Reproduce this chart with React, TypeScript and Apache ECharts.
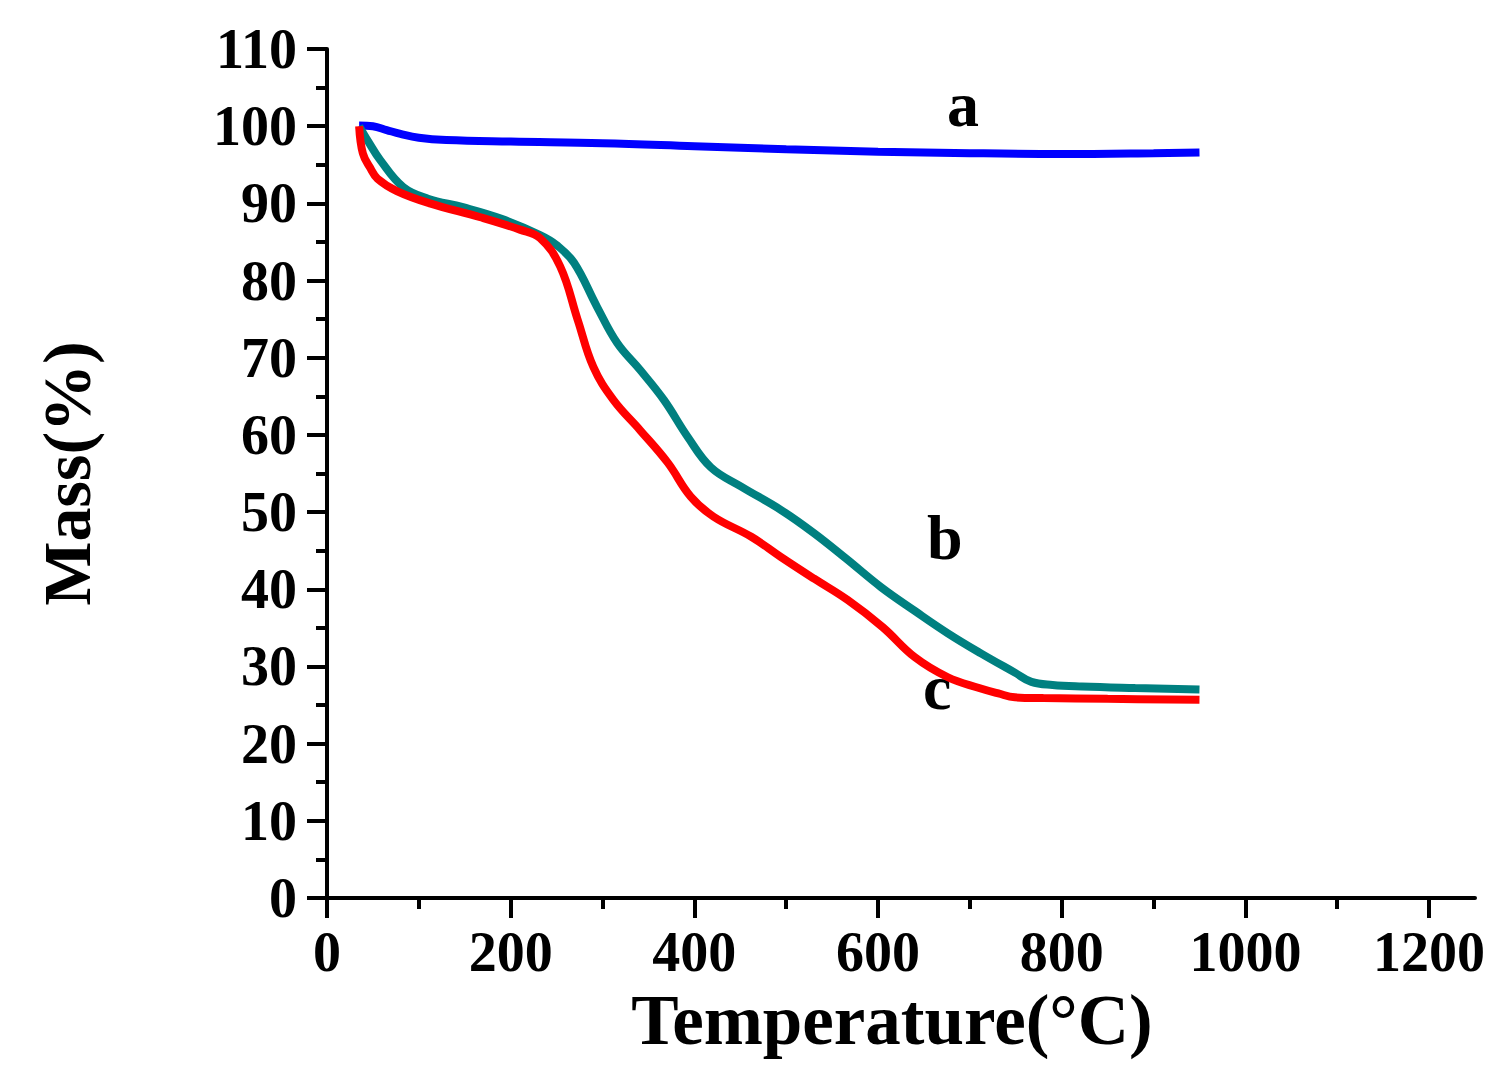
import React, { useEffect, useRef } from "react";
import * as echarts from "echarts";

const tempA = [35, 50, 65, 80, 100, 130, 200, 300, 400, 500, 600, 700, 800, 900, 950];
const massA = [100.1, 100, 99.5, 99.0, 98.5, 98.2, 98.0, 97.8, 97.4, 97.0, 96.7, 96.5, 96.4, 96.5, 96.6];

const tempB = [35, 45, 58, 83, 110, 148, 190, 232, 250, 269, 294, 316, 341, 367, 393, 418, 451, 494, 530, 565, 603, 640, 676, 712, 749, 767, 790, 822, 880, 950];
const massB = [100, 98, 95.6, 92.1, 90.6, 89.5, 88.0, 85.9, 84.6, 82.3, 76.6, 71.9, 68.4, 64.5, 59.7, 55.8, 53.3, 50.3, 47.3, 44, 40.3, 37.2, 34.3, 31.7, 29.2, 28.0, 27.6, 27.4, 27.2, 27.0];

const tempC = [35, 39, 47, 55, 76, 112, 167, 210, 232, 254, 273, 290, 312, 341, 371, 396, 421, 462, 494, 530, 567, 605, 640, 676, 710, 731, 749, 780, 850, 950];
const massC = [100, 96.5, 94.6, 93.2, 91.6, 90, 88.2, 86.6, 85.5, 81.8, 74.9, 68.8, 64.5, 60.6, 56.4, 52, 49.4, 46.8, 44.2, 41.4, 38.6, 35.1, 31.2, 28.6, 27.2, 26.5, 26.0, 25.9, 25.8, 25.7];

const xMajorTicks = [0, 200, 400, 600, 800, 1000, 1200];
const xMinorTicks = [100, 300, 500, 700, 900, 1100];

const seriesLabels = ["a", "b", "c"];

const FONT = "'Liberation Serif', 'Times New Roman', serif";

const zip = (xs: number[], ys: number[]) => xs.map((x, i) => [x, ys[i]]);

export default function App() {
  const ref = useRef<HTMLDivElement>(null);
  useEffect(() => {
    document.body.style.margin = "0";
    const chart = echarts.init(ref.current!, null, { renderer: "svg" });
    const axisLineStyle = { color: "#000", width: 4 };
    chart.setOption({
      animation: false,
      backgroundColor: "#fff",
      grid: { left: 327, top: 49, right: 31, bottom: 172, containLabel: false },
      xAxis: [
        {
          type: "value",
          min: 0,
          max: 1250,
          interval: 200,
          name: "Temperature(°C)",
          nameLocation: "middle",
          nameGap: 64,
          nameTextStyle: { fontFamily: FONT, fontWeight: "bold", fontSize: 71, color: "#000", padding: [0, 18, 0, 0] },
          axisLine: { show: true, lineStyle: axisLineStyle },
          axisTick: { show: true, inside: false, length: 20, lineStyle: { color: "#000", width: 4 }, customValues: xMajorTicks },
          axisLabel: {
            show: true,
            margin: 26,
            fontFamily: FONT,
            fontWeight: "bold",
            fontSize: 56,
            color: "#000",
            customValues: xMajorTicks,
            formatter: (v: number) => String(v),
          },
          splitLine: { show: false },
        },
        {
          type: "value",
          min: 0,
          max: 1250,
          position: "bottom",
          axisLine: { show: false },
          axisTick: { show: true, inside: false, length: 11, lineStyle: { color: "#000", width: 4 }, customValues: xMinorTicks },
          axisLabel: { show: false },
          splitLine: { show: false },
        },
      ],
      yAxis: {
        type: "value",
        min: 0,
        max: 110,
        interval: 10,
        name: "Mass(%)",
        nameLocation: "middle",
        nameGap: 226,
        nameRotate: 90,
        nameTextStyle: { fontFamily: FONT, fontWeight: "bold", fontSize: 68, color: "#000" },
        axisLine: { show: true, lineStyle: axisLineStyle },
        axisTick: { show: true, inside: false, length: 20, lineStyle: { color: "#000", width: 4 } },
        minorTick: { show: true, splitNumber: 2, length: 11, lineStyle: { color: "#000", width: 4 } },
        axisLabel: { show: true, margin: 30, fontFamily: FONT, fontWeight: "bold", fontSize: 56, color: "#000", formatter: (v: number) => String(v) },
        splitLine: { show: false },
        minorSplitLine: { show: false },
      },
      series: [
        {
          name: seriesLabels[0],
          type: "line",
          data: zip(tempA, massA),
          smooth: 0.4,
          showSymbol: false,
          symbol: "none",
          lineStyle: { color: "#0000FF", width: 8 },
          z: 2,
        },
        {
          name: seriesLabels[1],
          type: "line",
          data: zip(tempB, massB),
          smooth: 0.4,
          showSymbol: false,
          symbol: "none",
          lineStyle: { color: "#008080", width: 8 },
          z: 3,
        },
        {
          name: seriesLabels[2],
          type: "line",
          data: zip(tempC, massC),
          smooth: 0.4,
          showSymbol: false,
          symbol: "none",
          lineStyle: { color: "#FF0000", width: 8 },
          z: 4,
        },
      ],
      graphic: [
        { type: "text", left: 964 - 17, top: 72, style: { text: seriesLabels[0], fontFamily: FONT, fontWeight: "bold", fontSize: 64, fill: "#000" } },
        { type: "text", left: 945 - 18, top: 505, style: { text: seriesLabels[1], fontFamily: FONT, fontWeight: "bold", fontSize: 64, fill: "#000" } },
        { type: "text", left: 938 - 15, top: 655, style: { text: seriesLabels[2], fontFamily: FONT, fontWeight: "bold", fontSize: 64, fill: "#000" } },
      ],
    });
    return () => chart.dispose();
  }, []);
  return <div ref={ref} style={{ width: 1506, height: 1070 }} />;
}
